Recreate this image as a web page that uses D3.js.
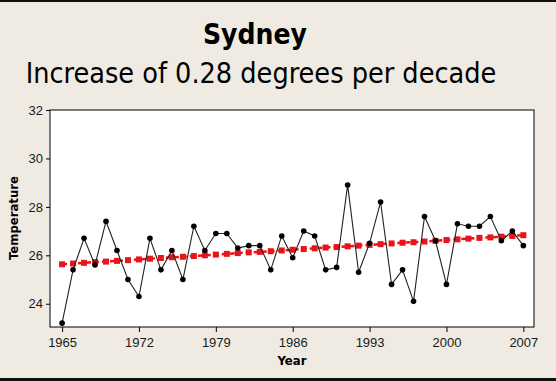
<!DOCTYPE html>
<html>
<head>
<meta charset="utf-8">
<script src="https://cdn.jsdelivr.net/npm/d3@7"></script>
<style>
  html, body { margin: 0; padding: 0; background: #efebe2; }
  svg { display: block; }
</style>
</head>
<body>
<div id="chart"></div>
<script>
const years = d3.range(1965, 2008);
const temps = [23.2, 25.4, 26.7, 25.6, 27.4, 26.2, 25.0, 24.3, 26.7, 25.4,
               26.2, 25.0, 27.2, 26.2, 26.9, 26.9, 26.3, 26.4, 26.4, 25.4,
               26.8, 25.9, 27.0, 26.8, 25.4, 25.5, 28.9, 25.3, 26.5, 28.2,
               24.8, 25.4, 24.1, 27.6, 26.6, 24.8, 27.3, 27.2, 27.2, 27.6,
               26.6, 27.0, 26.4];
const trend = [25.63, 25.66, 25.69, 25.72, 25.74, 25.77, 25.80, 25.83, 25.86, 25.89,
               25.92, 25.94, 25.97, 26.00, 26.03, 26.06, 26.09, 26.12, 26.14, 26.17,
               26.20, 26.23, 26.26, 26.29, 26.32, 26.34, 26.37, 26.40, 26.43, 26.46,
               26.49, 26.52, 26.54, 26.57, 26.60, 26.63, 26.66, 26.69, 26.72, 26.74,
               26.77, 26.80, 26.83];
const xTicks = [1965, 1972, 1979, 1986, 1993, 2000, 2007];
const yTicks = [24, 26, 28, 30, 32];

const width = 556, height = 381;
const plot = { left: 50, right: 534, top: 110, bottom: 327 };

const svg = d3.select("#chart")
    .append("svg")
    .attr("width", width)
    .attr("height", height)
    .style("font-family", "'DejaVu Sans Condensed', 'DejaVu Sans', sans-serif");

// outer frame lines
svg.append("rect").attr("x", 0).attr("y", 0).attr("width", width).attr("height", 2).attr("fill", "#111");
svg.append("rect").attr("x", 0).attr("y", 378).attr("width", width).attr("height", 3).attr("fill", "#111");

const x = d3.scaleLinear().domain([1963.9, 2007.97]).range([plot.left, plot.right]);
const y = d3.scaleLinear().domain([23.04, 32]).range([plot.bottom, plot.top]);

svg.append("rect")
    .attr("x", plot.left)
    .attr("y", plot.top)
    .attr("width", plot.right - plot.left)
    .attr("height", plot.bottom - plot.top)
    .attr("fill", "#fff")
    .attr("stroke", "#000")
    .attr("stroke-width", 1);

// titles
svg.append("text")
    .attr("x", 255).attr("y", 44)
    .attr("text-anchor", "middle")
    .style("font-size", "28px")
    .style("font-weight", "bold")
    .text("Sydney");

svg.append("text")
    .attr("x", 261).attr("y", 83)
    .attr("text-anchor", "middle")
    .style("font-size", "28.5px")
    .text("Increase of 0.28 degrees per decade");

// axes
const xAxis = svg.append("g")
    .attr("transform", `translate(0,${plot.bottom})`)
    .call(d3.axisBottom(x).tickValues(xTicks).tickFormat(d3.format("d")).tickSize(5).tickSizeOuter(0));
xAxis.select(".domain").remove();
xAxis.selectAll("text").style("font-size", "13px").attr("dy", "0.9em").attr("fill", "#1a1a1a");

const yAxis = svg.append("g")
    .attr("transform", `translate(${plot.left},0)`)
    .call(d3.axisLeft(y).tickValues(yTicks).tickSize(4).tickSizeOuter(0));
yAxis.select(".domain").remove();
yAxis.selectAll("text").style("font-size", "13px").attr("x", -7).attr("fill", "#1a1a1a");

svg.append("text")
    .attr("x", plot.left + (plot.right - plot.left) / 2)
    .attr("y", 365)
    .attr("text-anchor", "middle")
    .style("font-size", "13px")
    .style("font-weight", "bold")
    .text("Year");

svg.append("text")
    .attr("transform", "translate(18,218) rotate(-90)")
    .attr("text-anchor", "middle")
    .style("font-size", "13px")
    .style("font-weight", "bold")
    .text("Temperature");

// trend (red)
const trendData = years.map((yr, i) => ({ yr, v: trend[i] }));
svg.append("path")
    .datum(trendData)
    .attr("fill", "none")
    .attr("stroke", "#e8141a")
    .attr("stroke-width", 2.5)
    .attr("stroke-dasharray", "5,3")
    .attr("d", d3.line().x(d => x(d.yr)).y(d => y(d.v)));

svg.selectAll(".sq")
    .data(trendData)
    .enter()
    .append("rect")
    .attr("class", "sq")
    .attr("x", d => x(d.yr) - 3)
    .attr("y", d => y(d.v) - 3)
    .attr("width", 6)
    .attr("height", 6)
    .attr("fill", "#e8141a");

// temperature series
const tempData = years.map((yr, i) => ({ yr, v: temps[i] }));
svg.append("path")
    .datum(tempData)
    .attr("fill", "none")
    .attr("stroke", "#222")
    .attr("stroke-width", 1.1)
    .attr("d", d3.line().x(d => x(d.yr)).y(d => y(d.v)));

svg.selectAll(".pt")
    .data(tempData)
    .enter()
    .append("circle")
    .attr("class", "pt")
    .attr("cx", d => x(d.yr))
    .attr("cy", d => y(d.v))
    .attr("r", 2.8)
    .attr("fill", "#000");
</script>
</body>
</html>
